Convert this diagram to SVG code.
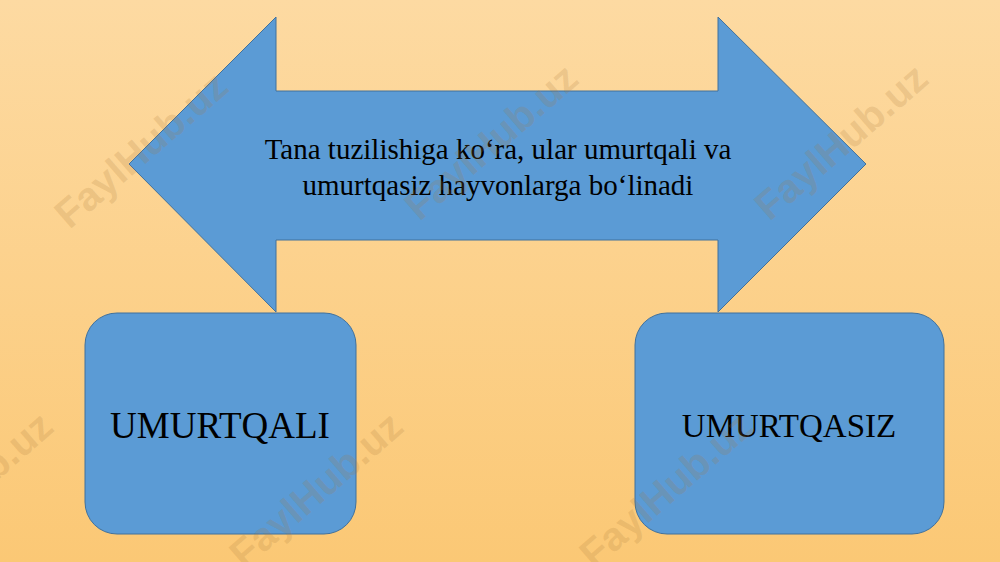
<svg xmlns="http://www.w3.org/2000/svg" width="1000" height="562" viewBox="0 0 1000 562">
<defs>
<linearGradient id="bg" x1="0" y1="0" x2="0" y2="1">
<stop offset="0" stop-color="#FDDAA2"/>
<stop offset="1" stop-color="#FBC875"/>
</linearGradient>
</defs>
<style>
.shape{fill:#5B9BD5;stroke:#41719C;stroke-width:1}
.t{font-family:"Liberation Serif","Times New Roman",serif;fill:#000;text-anchor:middle}
.wm{font-family:"Liberation Sans",Arial,sans-serif;font-weight:bold;font-size:40px;fill:#A87A3C;fill-opacity:0.2;text-anchor:middle}
</style>
<rect width="1000" height="562" fill="url(#bg)"/>
<g id="arrow">
<polygon class="shape" points="129,164 276,17 276,91 718,91 718,17 866,164 718,312 718,240 276,240 276,312"/>
<text class="t" font-size="29" x="498" y="159">Tana tuzilishiga ko‘ra, ular umurtqali va</text>
<text class="t" font-size="29" x="498" y="195">umurtqasiz hayvonlarga bo‘linadi</text>
</g>
<g id="connectors"></g>
<g id="umurtqali">
<rect class="shape" x="85" y="313" width="271" height="221" rx="32" ry="32"/>
<text class="t" font-size="37" x="220" y="438">UMURTQALI</text>
</g>
<g id="umurtqasiz">
<rect class="shape" x="635" y="313" width="309" height="221" rx="32" ry="32"/>
<text class="t" font-size="33" x="789" y="437">UMURTQASIZ</text>
</g>
<g id="watermarks">
<text class="wm" transform="translate(150,160) rotate(-41)">FaylHub.uz</text>
<text class="wm" transform="translate(500,152) rotate(-41)">FaylHub.uz</text>
<text class="wm" transform="translate(850,152) rotate(-41)">FaylHub.uz</text>
<text class="wm" transform="translate(-25,500) rotate(-41)">FaylHub.uz</text>
<text class="wm" transform="translate(325,500) rotate(-41)">FaylHub.uz</text>
<text class="wm" transform="translate(675,500) rotate(-41)">FaylHub.uz</text>
</g>
</svg>
